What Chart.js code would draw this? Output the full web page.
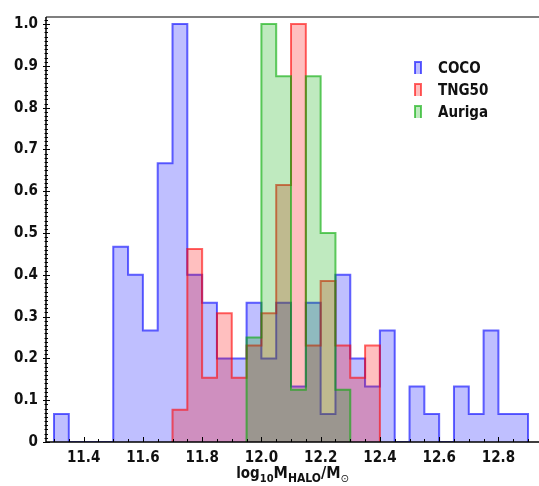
<!DOCTYPE html>
<html>
<head>
<meta charset="utf-8">
<script src="https://cdn.jsdelivr.net/npm/chart.js@4.4.1/dist/chart.umd.min.js"></script>
<style>
html,body{margin:0;padding:0;background:#fff;}
canvas{display:block;}
</style>
</head>
<body>
<canvas id="c" width="539" height="486"></canvas>
<script>
// ---- data ----
const binEdges = [11.30, 11.35, 11.40, 11.45, 11.50, 11.55, 11.60, 11.65, 11.70, 11.75, 11.80,
  11.85, 11.90, 11.95, 12.00, 12.05, 12.10, 12.15, 12.20, 12.25, 12.30, 12.35, 12.40,
  12.45, 12.50, 12.55, 12.60, 12.65, 12.70, 12.75, 12.80, 12.85, 12.90];
const seriesNames = ["COCO", "TNG50", "Auriga"];
const coco = [0.067, 0, 0, 0, 0.467, 0.4, 0.267, 0.667, 1.0, 0.4, 0.333, 0.2, 0.2, 0.333, 0.2, 0.333,
  0.133, 0.333, 0.067, 0.4, 0.2, 0.133, 0.267, 0, 0.133, 0.067, 0, 0.133, 0.067, 0.267, 0.067, 0.067];
const tng50 = [null, null, null, null, null, null, null, null, 0.077, 0.462, 0.154, 0.308, 0.154, 0.231,
  0.308, 0.615, 1.0, 0.231, 0.385, 0.231, 0.154, 0.231, null, null, null, null, null, null, null, null, null, null];
const auriga = [null, null, null, null, null, null, null, null, null, null, null, null, null, 0.25, 1.0,
  0.875, 0.125, 0.875, 0.5, 0.125, null, null, null, null, null, null, null, null, null, null, null, null];
const xTickValues = [11.4, 11.6, 11.8, 12.0, 12.2, 12.4, 12.6, 12.8];
const yTickValues = [0, 0.1, 0.2, 0.3, 0.4, 0.5, 0.6, 0.7, 0.8, 0.9, 1.0];

// ---- styling ----
const baseColors = ["0,0,255", "255,0,0", "0,170,0"];
const FONT = "'DejaVu Sans Condensed', 'DejaVu Sans', sans-serif";

function stepPoints(vals) {
  let s = -1, e = -1;
  vals.forEach((v, i) => { if (v !== null) { if (s < 0) s = i; e = i; } });
  const pts = [{x: binEdges[s], y: 0}];
  for (let i = s; i <= e; i++) pts.push({x: binEdges[i], y: vals[i]});
  pts.push({x: binEdges[e + 1], y: vals[e]});
  pts.push({x: binEdges[e + 1], y: 0});
  return pts;
}

const allSeries = [coco, tng50, auriga];
const datasets = allSeries.map((vals, k) => ({
  label: seriesNames[k],
  data: stepPoints(vals),
  stepped: 'before',
  fill: 'origin',
  backgroundColor: `rgba(${baseColors[k]},0.25)`,
  borderColor: `rgba(${baseColors[k]},0.6)`,
  borderWidth: 2,
  borderJoinStyle: 'miter',
  pointRadius: 0,
  order: 2 - k
}));

const decorPlugin = {
  id: 'decor',
  afterDraw(chart) {
    const ctx = chart.ctx, a = chart.chartArea;
    const xs = chart.scales.x, ys = chart.scales.y;
    ctx.save();
    // top spine
    ctx.strokeStyle = '#555';
    ctx.lineWidth = 1.5;
    ctx.beginPath(); ctx.moveTo(a.left, a.top); ctx.lineTo(a.right, a.top); ctx.stroke();
    // left + bottom spines
    ctx.strokeStyle = '#000';
    ctx.lineWidth = 1.5;
    ctx.beginPath();
    ctx.moveTo(a.left, a.top); ctx.lineTo(a.left, a.bottom); ctx.lineTo(a.right, a.bottom);
    ctx.stroke();
    // x ticks
    ctx.lineWidth = 1;
    for (let i = 0; ; i++) {
      const v = 11.3 + i * 0.05;
      if (v > xs.max) break;
      if (v < xs.min) continue;
      const px = Math.round(xs.getPixelForValue(v)) + 0.5;
      const major = Math.abs(v * 5 - Math.round(v * 5)) < 1e-6;
      ctx.beginPath(); ctx.moveTo(px, a.bottom); ctx.lineTo(px, a.bottom - (major ? 5 : 3)); ctx.stroke();
    }
    // y ticks
    for (let i = 0; ; i++) {
      const v = i * 0.01;
      if (v > ys.max + 1e-9) break;
      const py = Math.round(ys.getPixelForValue(v)) + 0.5;
      const major = i % 10 === 0;
      ctx.beginPath();
      ctx.moveTo(a.left - (major ? 3 : 1.5), py); ctx.lineTo(a.left + (major ? 4 : 2), py); ctx.stroke();
    }
    // legend
    const lx = a.left + 369, ly0 = a.top + 51, dy = 22;
    chart.data.datasets.forEach((ds, k) => {
      const cy = ly0 + k * dy;
      const hx = lx, hy = cy - 6, hw = 6, hh = 12;
      ctx.fillStyle = ds.backgroundColor;
      ctx.fillRect(hx, hy, hw, hh);
      ctx.strokeStyle = ds.borderColor;
      ctx.lineWidth = 2;
      ctx.beginPath(); ctx.moveTo(hx, hy + hh); ctx.lineTo(hx, hy); ctx.lineTo(hx + hw, hy); ctx.lineTo(hx + hw, hy + hh); ctx.stroke();
      ctx.fillStyle = '#111';
      ctx.font = `bold 15px ${FONT}`;
      ctx.textBaseline = 'middle';
      ctx.textAlign = 'left';
      ctx.fillText(ds.label, lx + 23, cy + 1);
    });
    // x axis title with subscripts
    const parts = [
      {t: 'log', f: `bold 15px ${FONT}`, dy: 0},
      {t: '10', f: `bold 11px ${FONT}`, dy: 4},
      {t: 'M', f: `bold 16px ${FONT}`, dy: 0},
      {t: 'HALO', f: `bold 12px ${FONT}`, dy: 4},
      {t: '/M', f: `bold 16px ${FONT}`, dy: 0},
      {t: '\u2299', f: `11px ${FONT}`, dy: 4}
    ];
    let total = 0;
    parts.forEach(p => { ctx.font = p.f; p.w = ctx.measureText(p.t).width; total += p.w; });
    let x = (a.left + a.right) / 2 - total / 2;
    const base = 478;
    ctx.fillStyle = '#111';
    ctx.textBaseline = 'alphabetic';
    parts.forEach(p => { ctx.font = p.f; ctx.fillText(p.t, x, base + p.dy); x += p.w; });
    ctx.restore();
  }
};

new Chart(document.getElementById('c'), {
  type: 'line',
  data: {datasets},
  options: {
    responsive: false,
    devicePixelRatio: 1,
    animation: false,
    layout: {padding: {top: 12, right: 0, left: 0, bottom: 0}},
    plugins: {legend: {display: false}, tooltip: {enabled: false}},
    scales: {
      x: {
        type: 'linear', min: 11.273, max: 12.937,
        grid: {display: false, drawTicks: false},
        border: {display: false},
        afterBuildTicks: s => { s.ticks = xTickValues.map(v => ({value: v})); },
        afterFit: s => { s.height = 44; },
        ticks: {
          padding: 7, color: '#111', maxRotation: 0, autoSkip: false,
          font: {family: FONT, size: 15, weight: 'bold'},
          callback: v => Number(v).toFixed(1)
        }
      },
      y: {
        type: 'linear', min: 0, max: 1.017,
        grid: {display: false, drawTicks: false},
        border: {display: false},
        afterBuildTicks: s => { s.ticks = yTickValues.map(v => ({value: v})); },
        afterFit: s => { s.width = 46; },
        ticks: {
          padding: 8, color: '#111', autoSkip: false,
          font: {family: FONT, size: 15, weight: 'bold'},
          callback: v => v === 0 ? '0' : Number(v).toFixed(1)
        }
      }
    }
  },
  plugins: [decorPlugin]
});
</script>
</body>
</html>
